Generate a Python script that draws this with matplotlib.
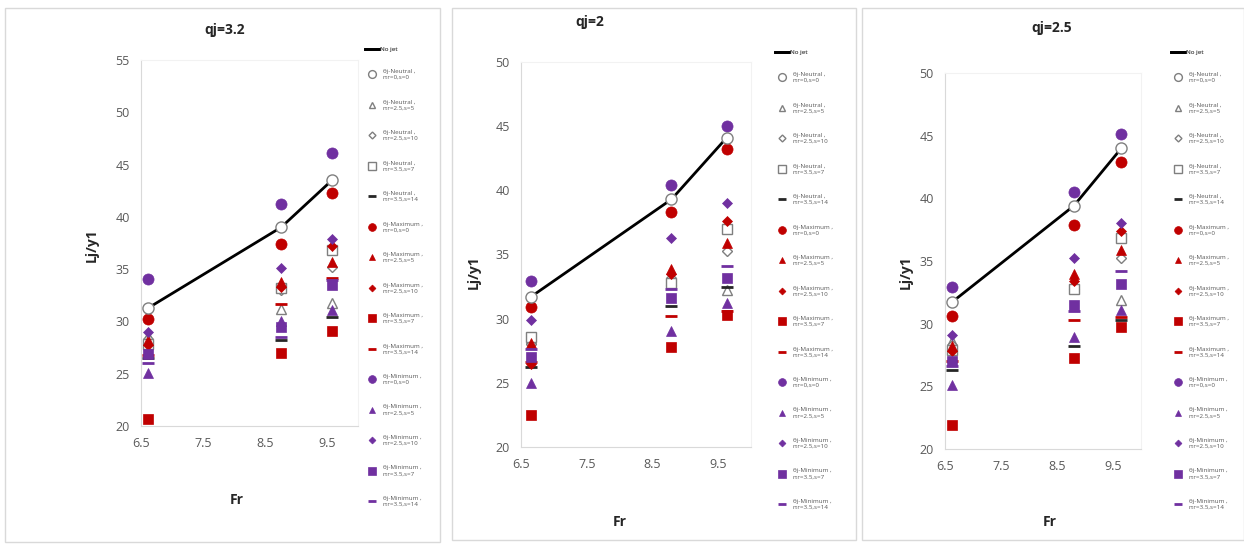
import matplotlib
matplotlib.use("Agg")
import matplotlib.pyplot as plt
from matplotlib.lines import Line2D
from matplotlib.patches import Rectangle

plt.rcParams['font.family'] = ['Open Sans', 'DejaVu Sans']

# ---------------- data ----------------
titles = ["qj=3.2", "qj=2", "qj=2.5"]
fr = [[6.62, 8.76, 9.58], [6.65, 8.79, 9.63], [6.62, 8.80, 9.65]]
ylims = [(20, 55), (20, 50), (20, 50)]

series_labels = [
    "θj-Neutral ,\nn:r=0,s=0",
    "θj-Neutral ,\nn:r=2.5,s=5",
    "θj-Neutral ,\nn:r=2.5,s=10",
    "θj-Neutral ,\nn:r=3.5,s=7",
    "θj-Neutral ,\nn:r=3.5,s=14",
    "θj-Maximum ,\nn:r=0,s=0",
    "θj-Maximum ,\nn:r=2.5,s=5",
    "θj-Maximum ,\nn:r=2.5,s=10",
    "θj-Maximum ,\nn:r=3.5,s=7",
    "θj-Maximum ,\nn:r=3.5,s=14",
    "θj-Minimum ,\nn:r=0,s=0",
    "θj-Minimum ,\nn:r=2.5,s=5",
    "θj-Minimum ,\nn:r=2.5,s=10",
    "θj-Minimum ,\nn:r=3.5,s=7",
    "θj-Minimum ,\nn:r=3.5,s=14",
]

# panel qj=3.2
p1_nojet = [31.3, 39.0, 43.5]
p1_values = [
    [31.3, 39.0, 43.5],  # N r0
    [28.6, 31.2, 31.8],  # N tri
    [28.3, 33.0, 35.2],  # N diamond
    [27.8, 33.2, 36.8],  # N square
    [26.5, 28.2, 30.4],  # N dash
    [30.2, 37.4, 42.3],  # Max r0
    [28.2, 33.8, 35.7],  # Max tri
    [27.7, 33.3, 37.2],  # Max diamond
    [20.7, 27.0, 29.1],  # Max square
    [26.8, 31.7, 34.2],  # Max dash
    [34.1, 41.2, 46.1],  # Min r0
    [25.1, 30.0, 31.1],  # Min tri
    [29.0, 35.1, 37.9],  # Min diamond
    [26.9, 29.5, 33.5],  # Min square
    [26.0, 28.5, 34.0],  # Min dash
]
# panel qj=2
p2_nojet = [31.7, 39.3, 44.1]
p2_values = [
    [31.7, 39.3, 44.1],
    [28.4, 33.0, 32.2],
    [28.0, 33.2, 35.3],
    [28.6, 32.8, 37.0],
    [26.2, 31.0, 32.5],
    [30.9, 38.3, 43.2],
    [28.1, 33.9, 35.9],
    [26.5, 33.5, 37.6],
    [22.5, 27.8, 30.3],
    [26.6, 30.2, 30.6],
    [32.9, 40.4, 45.0],
    [25.0, 29.0, 31.2],
    [29.9, 36.3, 39.0],
    [27.0, 31.6, 33.2],
    [27.6, 32.3, 34.1],
]
# panel qj=2.5
p3_nojet = [31.7, 39.4, 44.0]
p3_values = [
    [31.7, 39.4, 44.0],
    [28.6, 33.2, 31.9],
    [28.3, 33.0, 35.2],
    [27.9, 32.8, 36.8],
    [26.3, 28.2, 30.3],
    [30.6, 37.9, 42.9],
    [28.2, 34.0, 35.9],
    [27.8, 33.4, 37.4],
    [21.9, 27.3, 29.7],
    [27.0, 30.3, 30.5],
    [32.9, 40.5, 45.1],
    [25.1, 28.9, 31.1],
    [29.1, 35.2, 38.0],
    [27.0, 31.5, 33.2],
    [26.6, 31.0, 34.2],
]
nojets = [p1_nojet, p2_nojet, p3_nojet]
values = [p1_values, p2_values, p3_values]

# ---------------- styles ----------------
RED = "#C00000"
PUR = "#7030A0"
shapes = ['o', '^', 'D', 's', '_']
sizes = [8, 7, 5, 7.5, 8]


def style(i):
    group, k = divmod(i, 5)
    m = shapes[k]
    ms = sizes[k]
    if group == 0:
        if m == '_':
            return dict(marker=m, color='#262626', markersize=ms, markeredgewidth=2)
        return dict(marker=m, markerfacecolor='white', markeredgecolor='#7F7F7F',
                    markeredgewidth=1, markersize=ms)
    c = RED if group == 1 else PUR
    if m == '_':
        return dict(marker=m, color=c, markersize=ms, markeredgewidth=2)
    return dict(marker=m, markerfacecolor=c, markeredgecolor=c, markersize=ms,
                markeredgewidth=0.5)


W, H = 1244, 549
fig = plt.figure(figsize=(12.44, 5.49), dpi=100)

# panel frames
frames = [(5, 8, 440, 542), (452, 8, 856, 540), (862, 8, 1244, 540)]
for x0, y0, x1, y1 in frames:
    fig.patches.append(Rectangle((x0 / W, 1 - y1 / H), (x1 - x0) / W, (y1 - y0) / H,
                                 transform=fig.transFigure, fill=False,
                                 edgecolor='#D9D9D9', linewidth=1))

# axes boxes in pixels: left, top, right, bottom
boxes = [(141, 60, 358, 426), (521, 62, 751, 447), (945, 73, 1141, 449)]
title_pos = [(225, 30), (590, 22), (1052, 28)]
ylab_pos = [(92, 245), (474, 272), (906, 272)]
xlab_pos = [(237, 500), (620, 522), (1050, 522)]
leg_pos = [(362, 44), (772, 47), (1168, 47)]

for p in range(3):
    l, t, r, b = boxes[p]
    ax = fig.add_axes([l / W, 1 - b / H, (r - l) / W, (b - t) / H])
    ax.set_xlim(6.5, 10.0)
    ax.set_ylim(*ylims[p])
    ax.set_xticks([6.5, 7.5, 8.5, 9.5])
    ax.set_xticklabels(["6.5", "7.5", "8.5", "9.5"])
    ax.set_yticks(range(ylims[p][0], ylims[p][1] + 1, 5))
    for s in ax.spines.values():
        s.set_color('#F2F2F2')
        s.set_linewidth(0.8)
    ax.spines['left'].set_color('#D9D9D9')
    ax.spines['bottom'].set_color('#D9D9D9')
    ax.tick_params(length=0, labelsize=9, colors='#595959', pad=8)

    ax.plot(fr[p], nojets[p], color='black', linewidth=2, zorder=2)
    handles = []
    for i in range(15):
        h, = ax.plot(fr[p], values[p][i], linestyle='none', zorder=3 if i != 0 else 5,
                     **style(i))
        handles.append(h)

    fig.text(title_pos[p][0] / W, 1 - title_pos[p][1] / H, titles[p], ha='center',
             va='center', fontsize=10, fontweight='bold', color='#262626')
    fig.text(ylab_pos[p][0] / W, 1 - ylab_pos[p][1] / H, "Lj/y1", ha='center',
             va='center', rotation=90, fontsize=10, fontweight='bold', color='#262626')
    fig.text(xlab_pos[p][0] / W, 1 - xlab_pos[p][1] / H, "Fr", ha='center',
             va='center', fontsize=10, fontweight='bold', color='#262626')

    lx, ly = leg_pos[p]
    leg1 = fig.legend([Line2D([], [], color='black', linewidth=2)], ["No jet"],
                      loc='upper left', bbox_to_anchor=(lx / W, 1 - ly / H),
                      frameon=False, fontsize=4.5, handlelength=2.2,
                      handletextpad=0.2, borderpad=0, labelcolor='#595959')
    fig.legend(handles, series_labels, loc='upper left',
               bbox_to_anchor=(lx / W, 1 - (ly + 22) / H), frameon=False,
               fontsize=4.5, handlelength=2.2, handletextpad=0.6, borderpad=0,
               labelspacing=3.15, labelcolor='#595959', markerscale=0.7)
    fig.add_artist(leg1)

fig.savefig("out.png", dpi=100, facecolor='white')
